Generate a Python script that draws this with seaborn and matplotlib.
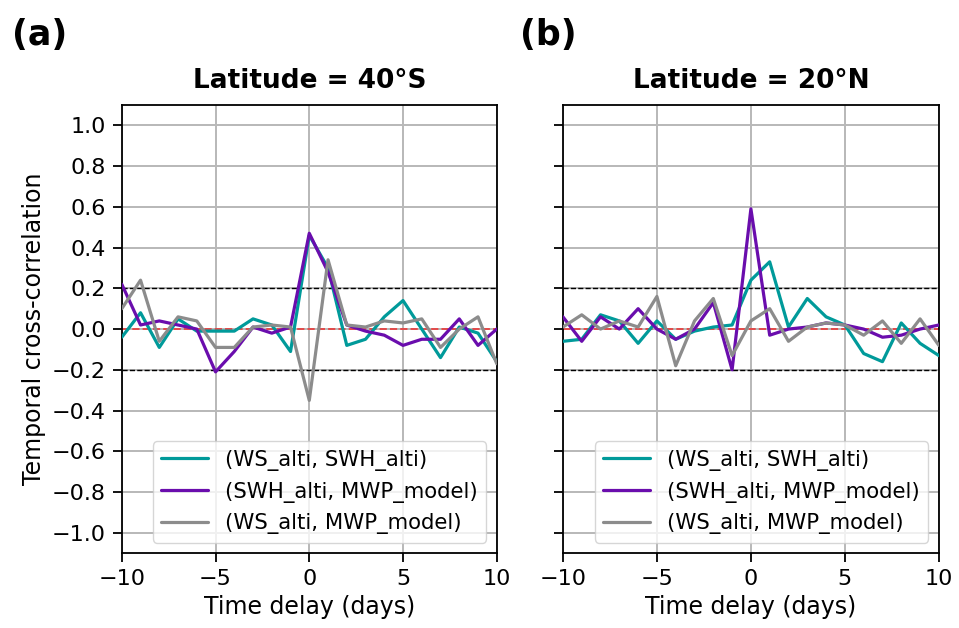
import numpy as np
import pandas as pd
import matplotlib
matplotlib.use("Agg")
import matplotlib.pyplot as plt
import seaborn as sns

sns.set_style("ticks")
plt.rcParams['font.family'] = ['DejaVu Sans']
plt.rcParams['text.color'] = 'black'
plt.rcParams['axes.labelcolor'] = 'black'
plt.rcParams['xtick.color'] = 'black'
plt.rcParams['ytick.color'] = 'black'

lags = list(range(-10, 11))
pair_names = ['(WS_alti, SWH_alti)', '(SWH_alti, MWP_model)', '(WS_alti, MWP_model)']
colors = ['#009a9a', '#6a0dad', '#8c8c8c']

# Latitude = 40S
ws_swh_40s = [-0.04, 0.08, -0.09, 0.05, -0.01, -0.01, -0.01, 0.05, 0.02, -0.11,
              0.46, 0.30, -0.08, -0.05, 0.06, 0.14, 0.00, -0.14, 0.01, -0.02, -0.16]
swh_mwp_40s = [0.22, 0.02, 0.04, 0.02, 0.00, -0.21, -0.11, 0.01, -0.02, 0.01,
               0.47, 0.28, 0.02, -0.01, -0.03, -0.08, -0.05, -0.05, 0.05, -0.08, 0.00]
ws_mwp_40s = [0.10, 0.24, -0.06, 0.06, 0.04, -0.09, -0.09, 0.01, 0.02, 0.01,
              -0.35, 0.34, 0.02, 0.01, 0.04, 0.03, 0.05, -0.09, 0.00, 0.06, -0.17]

# Latitude = 20N
ws_swh_20n = [-0.06, -0.05, 0.07, 0.04, -0.07, 0.04, -0.05, -0.01, 0.01, 0.02,
              0.24, 0.33, 0.01, 0.15, 0.06, 0.02, -0.12, -0.16, 0.03, -0.07, -0.13]
swh_mwp_20n = [0.06, -0.06, 0.06, 0.00, 0.10, 0.00, -0.05, 0.00, 0.13, -0.20,
               0.59, -0.03, 0.00, 0.01, 0.03, 0.02, 0.00, -0.04, -0.03, 0.00, 0.02]
ws_mwp_20n = [0.01, 0.07, 0.00, 0.04, 0.01, 0.16, -0.18, 0.04, 0.15, -0.13,
              0.04, 0.10, -0.06, 0.01, 0.03, 0.02, -0.03, 0.04, -0.07, 0.05, -0.08]

panels = [
    ('(a)', 'Latitude = 40°S', [ws_swh_40s, swh_mwp_40s, ws_mwp_40s]),
    ('(b)', 'Latitude = 20°N', [ws_swh_20n, swh_mwp_20n, ws_mwp_20n]),
]

fig = plt.figure(figsize=(9.59, 6.28), dpi=100)
ax_a = fig.add_axes([0.127, 0.119, 0.391, 0.714])
ax_b = fig.add_axes([0.587, 0.119, 0.392, 0.714], sharey=ax_a)
label_x = [0.012, 0.542]

for i, (ax, (label, title, series)) in enumerate(zip([ax_a, ax_b], panels)):
    frames = []
    for name, vals in zip(pair_names, series):
        frames.append(pd.DataFrame({'lag': lags, 'corr': vals, 'pair': name}))
    df = pd.concat(frames, ignore_index=True)
    ax.axhline(0.2, color='black', ls='--', lw=1.0, zorder=1)
    ax.axhline(-0.2, color='black', ls='--', lw=1.0, zorder=1)
    ax.axhline(0.0, color='red', ls='--', lw=1.4, alpha=0.6, zorder=1)
    sns.lineplot(data=df, x='lag', y='corr', hue='pair', hue_order=pair_names,
                 palette=colors, lw=2.3, ax=ax, zorder=3)
    ax.set_xlim(-10, 10)
    ax.set_ylim(-1.1, 1.1)
    ax.set_xticks([-10, -5, 0, 5, 10])
    ax.set_yticks(np.round(np.arange(-1.0, 1.01, 0.2), 1))
    ax.grid(True, color='#b8b8b8', lw=1.4)
    ax.set_axisbelow(True)
    for s in ax.spines.values():
        s.set_visible(True)
        s.set_linewidth(1.3)
        s.set_color('black')
    ax.tick_params(labelsize=16, width=1.3, length=6.5, pad=5)
    ax.set_xlabel('Time delay (days)', fontsize=17)
    ax.set_title(title, fontsize=19, fontweight='bold', pad=12)
    ax.legend(loc='lower right', fontsize=15.3, framealpha=0.8, handlelength=2.2)
    fig.text(label_x[i], 0.944, label, fontsize=25, fontweight='bold', va='center')

ax_a.set_ylabel('Temporal cross-correlation', fontsize=17)
ax_b.set_ylabel('')
ax_b.tick_params(labelleft=False)

fig.savefig('out.png', dpi=100)
